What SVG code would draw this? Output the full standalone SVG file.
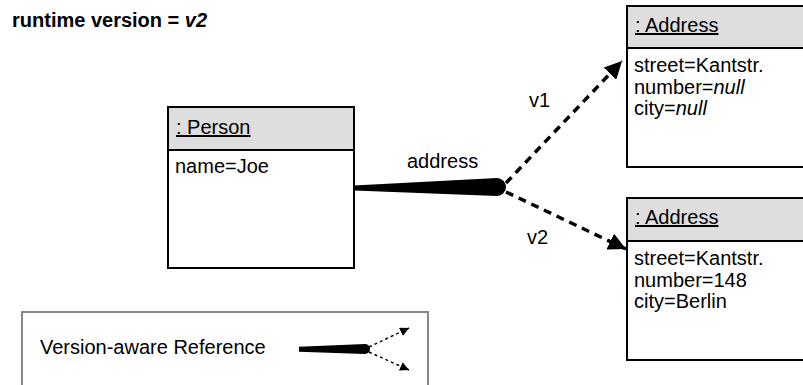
<svg xmlns="http://www.w3.org/2000/svg" width="803" height="385" viewBox="0 0 803 385">
<style>
text{font-family:"Liberation Sans",Arial,sans-serif;font-size:20px;fill:#000}
.box{fill:#fff;stroke:#000;stroke-width:2}
.hdr{fill:#dedede;stroke:#000;stroke-width:2}
.title{text-decoration:underline}
.dash{fill:none;stroke:#000;stroke-width:3.5;stroke-dasharray:8 6}
.dashs{fill:none;stroke:#000;stroke-width:1.5;stroke-dasharray:3 3}
</style>
<defs>
<marker id="ah" viewBox="0 0 10 10" refX="10" refY="5" markerWidth="5" markerHeight="5" orient="auto" markerUnits="strokeWidth"><path d="M0,0 L10,5 L0,10 Z" fill="#000"/></marker>
<marker id="ahs" viewBox="0 0 10 10" refX="10" refY="5" markerWidth="6" markerHeight="6" orient="auto" markerUnits="strokeWidth"><path d="M0,0 L10,5 L0,10 Z" fill="#000"/></marker>
</defs>
<text x="12" y="27" font-weight="bold">runtime version = <tspan font-style="italic">v2</tspan></text>
<g id="person">
<rect class="box" x="168" y="107" width="186" height="161"/>
<rect class="hdr" x="168" y="107" width="186" height="43"/>
<text class="title" x="176" y="134">: Person</text>
<text x="175" y="173">name=Joe</text>
</g>
<g id="address1">
<rect class="box" x="627" y="6" width="200" height="161"/>
<rect class="hdr" x="627" y="6" width="200" height="42"/>
<text class="title" x="635" y="32">: Address</text>
<text x="634" y="72">street=Kantstr.</text>
<text x="634" y="94">number=<tspan font-style="italic">null</tspan></text>
<text x="634" y="115">city=<tspan font-style="italic">null</tspan></text>
</g>
<g id="address2">
<rect class="box" x="627" y="198" width="200" height="162"/>
<rect class="hdr" x="627" y="198" width="200" height="43"/>
<text class="title" x="635" y="224">: Address</text>
<text x="634" y="265">street=Kantstr.</text>
<text x="634" y="287">number=148</text>
<text x="634" y="308">city=Berlin</text>
</g>
<g id="connectors">
<path d="M354,185.5 L497,178 A9,9 0 0 1 497,196 L354,190.5 Z" fill="#000"/>
<path class="dash" d="M506,183 L622,61" marker-end="url(#ah)"/>
<path class="dash" d="M506,192 L626,249" marker-end="url(#ah)"/>
<text x="407" y="168">address</text>
<text x="529" y="107">v1</text>
<text x="527" y="244">v2</text>
</g>
<g id="legend">
<rect x="22" y="312" width="406" height="90" fill="#fff" stroke="#888" stroke-width="2"/>
<text x="40" y="354">Version-aware Reference</text>
<path d="M299,346.7 L365,344 A5,5 0 0 1 365,354 L299,351.7 Z" fill="#000"/>
<path class="dashs" d="M369,347 L409,328" marker-end="url(#ahs)"/>
<path class="dashs" d="M369,352 L409,370" marker-end="url(#ahs)"/>
</g>
</svg>
